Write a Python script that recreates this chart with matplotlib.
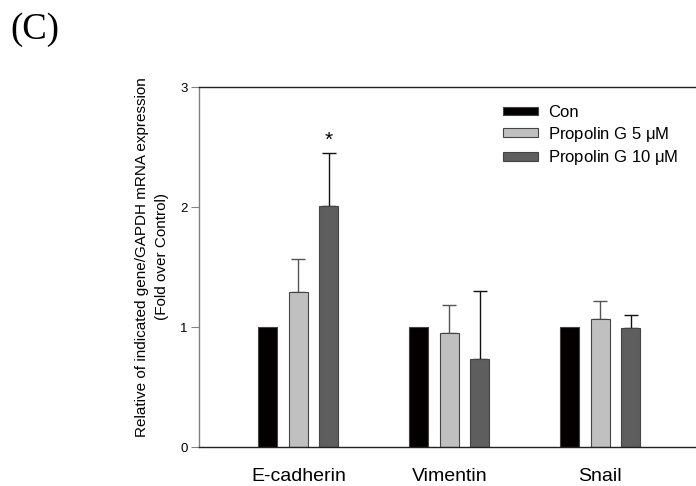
import matplotlib
matplotlib.use("Agg")
import matplotlib.pyplot as plt
import numpy as np

genes = ["E-cadherin", "Vimentin", "Snail"]
groups = ["Con", "Propolin G 5 $\\mu$M", "Propolin G 10 $\\mu$M"]
con = [1.0, 1.0, 1.0]
con_err = [0.0, 0.0, 0.0]
pg5 = [1.29, 0.95, 1.07]
pg5_err = [0.28, 0.23, 0.15]
pg10 = [2.01, 0.73, 0.995]
pg10_err = [0.44, 0.57, 0.105]
colors = ["#050000", "#c0c0c0", "#5e5e5e"]
err_colors = ["#050000", "#555555", "#111111"]

plt.rcParams["font.family"] = ["Liberation Sans", "DejaVu Sans"]
plt.rcParams["mathtext.fontset"] = "custom"
plt.rcParams["mathtext.it"] = "Liberation Sans"
plt.rcParams["mathtext.rm"] = "Liberation Sans"

fig = plt.figure(figsize=(6.96, 4.86), dpi=100)
ax = fig.add_axes([199 / 696, 39 / 486, 497 / 696, 360 / 486])

x = np.arange(len(genes))
width = 0.126
step = 0.202
series = [(con, con_err), (pg5, pg5_err), (pg10, pg10_err)]
for i, (vals, errs) in enumerate(series):
    pos = x + (i - 1) * step
    ax.bar(pos, vals, width, color=colors[i], edgecolor="#444444", linewidth=0.8,
           label=groups[i], zorder=2)
    if any(errs):
        ax.errorbar(pos, vals, yerr=[np.zeros(len(errs)), errs], fmt="none",
                    ecolor=err_colors[i], elinewidth=1, capsize=5, capthick=1, zorder=1)

ax.text(x[0] + step, pg10[0] + pg10_err[0] + 0.03, "*", ha="center", va="bottom",
        fontsize=15)

ax.set_xlim(-0.658, 2.634)
ax.set_ylim(0, 3)
ax.set_yticks([0, 1, 2, 3])
ax.set_xticks(x)
ax.set_xticklabels(genes, fontsize=14)
ax.tick_params(axis="x", length=0, pad=15)
ax.tick_params(axis="y", direction="out", length=6, color="#808080", labelsize=9.5, pad=2)

ax.spines["right"].set_visible(False)
ax.spines["left"].set_color("#808080")
ax.spines["top"].set_color("#222222")
ax.spines["bottom"].set_color("#222222")
for s in ax.spines.values():
    s.set_linewidth(1)

ax.set_ylabel("Relative of indicated gene/GAPDH mRNA expression\n(Fold over Control)",
              fontsize=11, linespacing=1.6)
ax.yaxis.set_label_coords(-0.06, 0.528)

ax.legend(loc="upper left", bbox_to_anchor=(503 / 696, 1 - 105 / 486),
          bbox_transform=fig.transFigure, frameon=False, fontsize=12,
          handlelength=2.1, handleheight=0.42, handletextpad=0.6, labelspacing=0.28,
          borderpad=0.0, borderaxespad=0.0)

fig.text(10 / 696, 1 - 12 / 486, "(C)", fontsize=26.5, family="Liberation Serif",
         va="top", ha="left")

fig.savefig("out.png", dpi=100)
